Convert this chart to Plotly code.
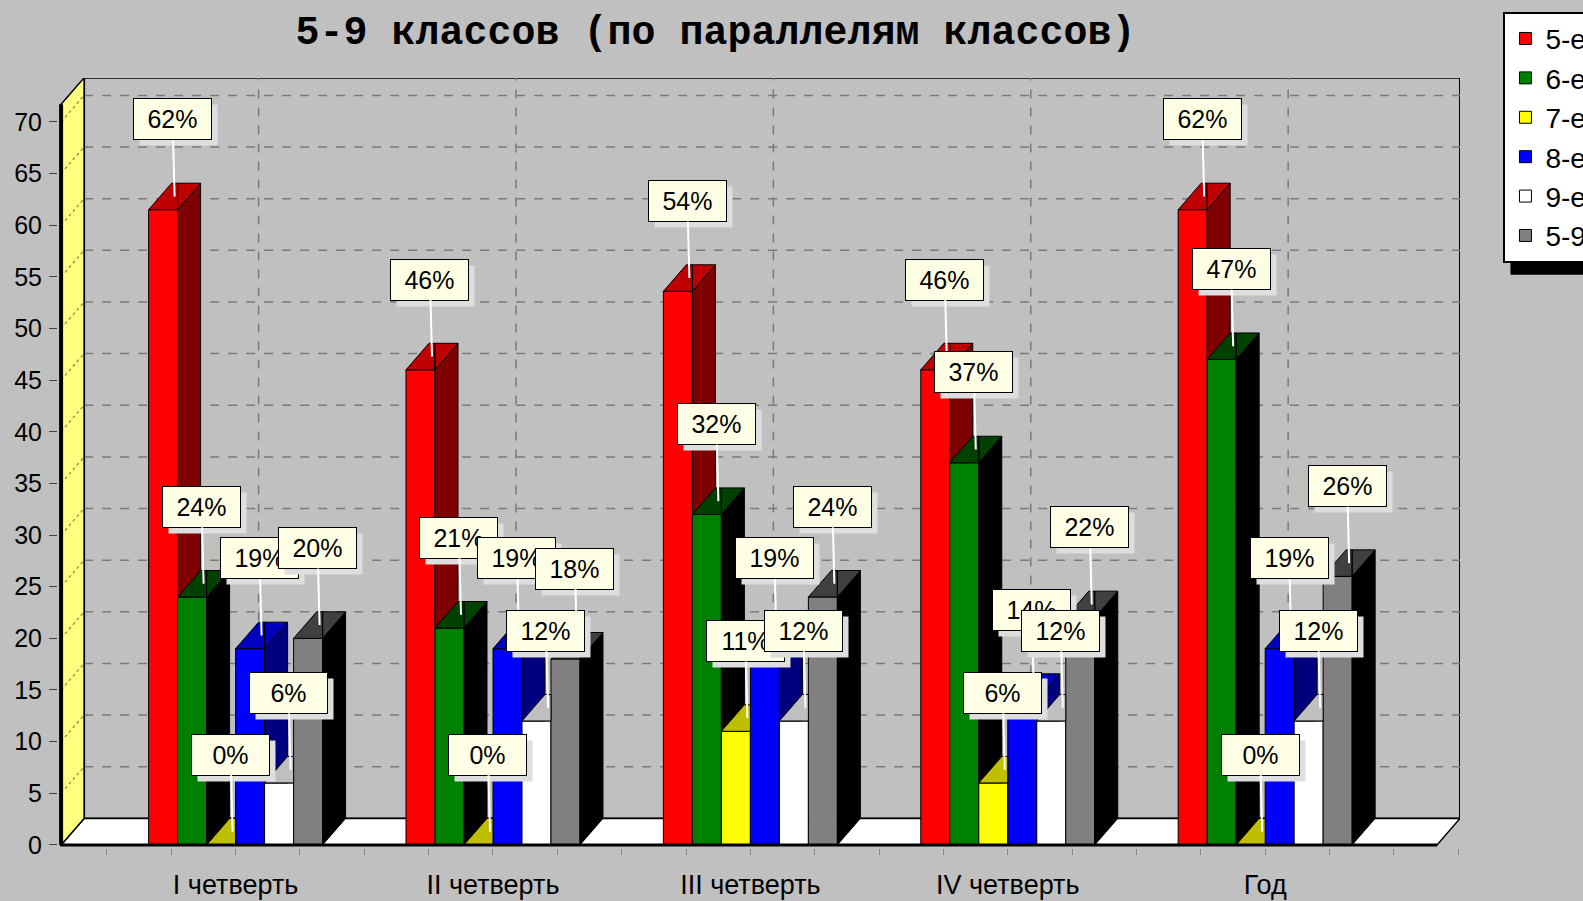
import plotly.graph_objects as go

# ---------------- data ----------------
categories = ["I четверть", "II четверть", "III четверть", "IV четверть", "Год"]
series_names = ["5-е", "6-е", "7-е", "8-е", "9-е", "5-9"]
s5 = [61.5, 46, 53.6, 46, 61.5]
s6 = [24, 21, 32, 37, 47]
s7 = [0, 0, 11, 6, 0]
s8 = [19, 19, 19, 14, 19]
s9 = [6, 12, 12, 12, 12]
s59 = [20, 18, 24, 22, 26]
series_values = [s5, s6, s7, s8, s9, s59]
y_ticks = list(range(0, 75, 5))
title_text = "5-9 классов (по параллелям классов)"

# ---------------- style ----------------
front_colors = ["#ff0000", "#008000", "#ffff00", "#0000ff", "#ffffff", "#808080"]
BG = "#c0c0c0"
W = 29 / 257.4          # bar width (x units)
DX = 23 / 257.4         # 3D depth, x units
DY = 26.5 / 10.33       # 3D depth, y units
X0 = -0.678             # front-left corner of floor
XR = [-0.69, 4.757]
X1 = XR[1] - DX
YR = [-0.3, 74.25]
YTOP = 71.7


def shade(hexc, amount):
    r, g, b = int(hexc[1:3], 16), int(hexc[3:5], 16), int(hexc[5:7], 16)
    r, g, b = [max(c - amount, 0) for c in (r, g, b)]
    return "#%02x%02x%02x" % (r, g, b)


def clip(poly, axis, val, keep_ge):
    def ins(p):
        return p[axis] >= val - 1e-12 if keep_ge else p[axis] <= val + 1e-12

    def inter(a, b):
        t = (val - a[axis]) / (b[axis] - a[axis])
        return (a[0] + t * (b[0] - a[0]), a[1] + t * (b[1] - a[1]))

    out = []
    n = len(poly)
    for k in range(n):
        cur, prev = poly[k], poly[k - 1]
        if ins(cur):
            if not ins(prev):
                out.append(inter(prev, cur))
            out.append(cur)
        elif ins(prev):
            out.append(inter(prev, cur))
    return out


def area(poly):
    s = 0
    for k in range(len(poly)):
        a, b = poly[k - 1], poly[k]
        s += a[0] * b[1] - b[0] * a[1]
    return abs(s) / 2


fig = go.Figure()

# front faces as real bars
for i, (name, vals) in enumerate(zip(series_names, series_values)):
    xs = [j + (i - 2.5) * W for j in range(len(categories))]
    fig.add_trace(go.Bar(
        x=xs, y=vals, width=W, name=name,
        marker=dict(color=front_colors[i], line=dict(color="black", width=1)),
        hoverinfo="skip"))

# side + top faces (painter order, clipped by next bar's front face)
for i, vals in enumerate(series_values):
    side_x, side_y, top_x, top_y = [], [], [], []
    for j, v in enumerate(vals):
        l = j + (i - 3) * W
        r = l + W
        h = series_values[i + 1][j] if i + 1 < len(series_values) else -1e9
        S = [(r, 0), (r, v), (r + DX, v + DY), (r + DX, DY)]
        S = clip(S, 1, h, True)
        T = [(l, v), (r, v), (r + DX, v + DY), (l + DX, v + DY)]
        pieces = [clip(T, 0, r, False), clip(clip(T, 0, r, True), 1, h, True)]
        if len(S) >= 3 and area(S) > 1e-9:
            side_x += [p[0] for p in S] + [S[0][0], None]
            side_y += [p[1] for p in S] + [S[0][1], None]
        for P in pieces:
            if len(P) >= 3 and area(P) > 1e-9:
                top_x += [p[0] for p in P] + [P[0][0], None]
                top_y += [p[1] for p in P] + [P[0][1], None]
    fig.add_trace(go.Scatter(x=side_x, y=side_y, mode="lines", fill="toself",
                             fillcolor=shade(front_colors[i], 128),
                             line=dict(color="black", width=1),
                             showlegend=False, hoverinfo="skip"))
    fig.add_trace(go.Scatter(x=top_x, y=top_y, mode="lines", fill="toself",
                             fillcolor=shade(front_colors[i], 64),
                             line=dict(color="black", width=1),
                             showlegend=False, hoverinfo="skip"))

# ---------------- walls, floor, grid ----------------
shapes = []
shapes.append(dict(type="rect", xref="x", yref="y", x0=X0 + DX, x1=X1 + DX, y0=DY, y1=YTOP + DY,
                   fillcolor=BG, line=dict(color="black", width=2), layer="below"))
for t in y_ticks[1:]:
    shapes.append(dict(type="line", xref="x", yref="y", x0=X0 + DX, x1=X1 + DX, y0=t + DY, y1=t + DY,
                       line=dict(color="#7a7a7a", width=1.5, dash="dash"), layer="below"))
for j in range(len(categories)):
    shapes.append(dict(type="line", xref="x", yref="y", x0=j + DX, x1=j + DX, y0=DY, y1=YTOP + DY,
                       line=dict(color="#7a7a7a", width=1.5, dash="dash"), layer="below"))
shapes.append(dict(type="path", xref="x", yref="y",
                   path=f"M{X0},{0} L{X1},{0} L{X1 + DX},{DY} L{X0 + DX},{DY} Z",
                   fillcolor="white", line=dict(color="black", width=1.5), layer="below"))
shapes.append(dict(type="path", xref="x", yref="y",
                   path=f"M{X0},{0} L{X0},{YTOP} L{X0 + DX},{YTOP + DY} L{X0 + DX},{DY} Z",
                   fillcolor="#ffff80", line=dict(color="black", width=1.5), layer="below"))
for t in y_ticks[1:]:
    shapes.append(dict(type="line", xref="x", yref="y", x0=X0, x1=X0 + DX, y0=t, y1=t + DY,
                       line=dict(color="#8a8a30", width=1.2, dash="dot"), layer="below"))
# front axis lines
shapes.append(dict(type="line", xref="x", yref="y", x0=X0, x1=X0, y0=0, y1=YTOP,
                   line=dict(color="black", width=4), layer="above"))
shapes.append(dict(type="line", xref="x", yref="y", x0=X0, x1=X1, y0=0, y1=0,
                   line=dict(color="black", width=3), layer="above"))
# legend shadow
shapes.append(dict(type="rect", xref="paper", yref="paper",
                   x0=1.036, x1=1.2, y0=1.086 - 262 / 767, y1=1.086 - 8 / 767,
                   fillcolor="black", line=dict(width=0), layer="below"))

# ---------------- labels ----------------
annotations = []
AX, AY = -2, -77
for i, vals in enumerate(series_values):
    for j, v in enumerate(vals):
        cx = j + (i - 2.5) * W + DX / 2
        cy = v + DY / 2
        label = f"{v:.0f}%"
        annotations.append(dict(x=cx, y=cy, xref="x", yref="y", text=label, showarrow=False,
                                xshift=AX + 6, yshift=-AY - 6, font=dict(size=25, color="rgba(0,0,0,0)",
                                family="Liberation Sans"),
                                bgcolor="#dedede", width=73, height=36, borderpad=2, borderwidth=1,
                                bordercolor="rgba(0,0,0,0)"))
        annotations.append(dict(x=cx, y=cy, xref="x", yref="y", text=label, showarrow=True,
                                ax=AX, ay=AY, arrowhead=0, arrowwidth=2, arrowcolor="white",
                                standoff=0, startstandoff=0,
                                font=dict(size=25, color="black", family="Liberation Sans"),
                                bgcolor="#ffffe6", width=73, height=36, borderpad=2, borderwidth=1,
                                bordercolor="black"))

fig.update_layout(
    width=1583, height=901,
    paper_bgcolor=BG, plot_bgcolor=BG,
    barmode="overlay",
    margin=dict(l=58, r=123, t=78, b=53, pad=0, autoexpand=False),
    title=dict(text=f"<b>{title_text}</b>", x=0.452, xref="container", y=1 - 30 / 901,
               yref="container", xanchor="center", yanchor="middle",
               font=dict(family="Liberation Mono", size=40, color="black")),
    xaxis=dict(range=XR, tickvals=list(range(len(categories))), ticktext=categories,
               showgrid=False, zeroline=False, showline=False,
               ticks="outside", ticklen=6, tickcolor="#8a8a8a", ticklabelstandoff=7,
               minor=dict(dtick=0.25, tick0=0, ticks="outside", ticklen=6, tickcolor="#8a8a8a"),
               tickfont=dict(family="Liberation Sans", size=27, color="black")),
    yaxis=dict(range=YR, tickvals=y_ticks, ticktext=[str(t) for t in y_ticks],
               showgrid=False, zeroline=False, showline=False,
               ticks="outside", ticklen=8, tickcolor="#404040", ticklabelstandoff=2,
               tickfont=dict(family="Liberation Sans", size=25, color="black")),
    legend=dict(x=1.031, y=1.086, xanchor="left", yanchor="top", bgcolor="white",
                bordercolor="black", borderwidth=2, traceorder="normal",
                font=dict(family="Liberation Sans", size=28, color="black")),
    shapes=shapes,
    annotations=annotations,
)

fig.write_html("out.html", config={"displayModeBar": False},
               post_script="document.body.style.margin='0';document.body.style.overflow='hidden';")
